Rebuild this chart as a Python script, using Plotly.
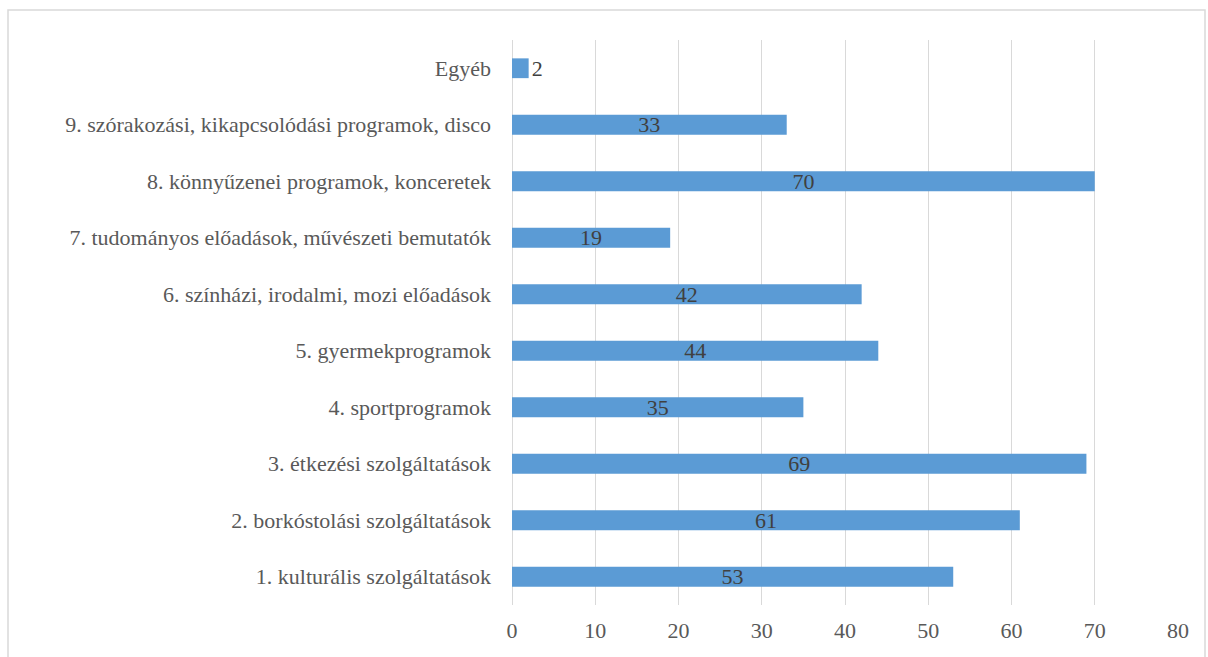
import plotly.graph_objects as go

categories = [
    "1. kulturális szolgáltatások",
    "2. borkóstolási szolgáltatások",
    "3. étkezési szolgáltatások",
    "4. sportprogramok",
    "5. gyermekprogramok",
    "6. színházi, irodalmi, mozi előadások",
    "7. tudományos előadások, művészeti bemutatók",
    "8. könnyűzenei programok, konceretek",
    "9. szórakozási, kikapcsolódási programok, disco",
    "Egyéb",
]
values = [53, 61, 69, 35, 44, 42, 19, 70, 33, 2]
x_ticks = [0, 10, 20, 30, 40, 50, 60, 70, 80]

font_family = "Liberation Serif"
fs = 22

fig = go.Figure(go.Bar(
    y=categories,
    x=values,
    orientation="h",
    marker=dict(color="#5B9BD5", line=dict(width=0)),
    text=[str(v) for v in values],
    textposition=["outside" if v < 5 else "inside" for v in values],
    insidetextanchor="middle",
    textfont=dict(family=font_family, size=fs, color="#404040"),
    outsidetextfont=dict(family=font_family, size=fs, color="#404040"),
    insidetextfont=dict(family=font_family, size=fs, color="#404040"),
    cliponaxis=False,
    textangle=0,
    constraintext="none",
))

fig.update_layout(
    width=1208, height=657,
    margin=dict(l=512, r=30, t=40, b=52),
    paper_bgcolor="white",
    plot_bgcolor="white",
    bargap=0.65,
    showlegend=False,
    uniformtext=dict(mode="show", minsize=fs),
    font=dict(family=font_family, size=fs, color="#595959"),
    xaxis=dict(
        range=[0, 80],
        tickvals=x_ticks,
        ticktext=[str(t) for t in x_ticks],
        showgrid=True,
        gridcolor="#D9D9D9",
        gridwidth=1,
        zeroline=True,
        zerolinecolor="#D9D9D9",
        zerolinewidth=1,
        showline=False,
        ticks="",
        ticklabelstandoff=10,
        tickfont=dict(family=font_family, size=fs, color="#595959"),
    ),
    yaxis=dict(
        showgrid=False,
        showline=False,
        ticks="",
        ticklen=0,
        tickfont=dict(family=font_family, size=fs, color="#595959"),
        automargin=False,
        ticklabelstandoff=20,
    ),
    shapes=[dict(
        type="rect", xref="paper", yref="paper",
        x0=(8 - 512) / 666, x1=(1205 - 512) / 666,
        y0=-0.2, y1=1 + 30 / 565,
        line=dict(color="#D9D9D9", width=1.5),
        fillcolor="rgba(0,0,0,0)",
        layer="below",
    )],
)

fig.write_html("out.html")
